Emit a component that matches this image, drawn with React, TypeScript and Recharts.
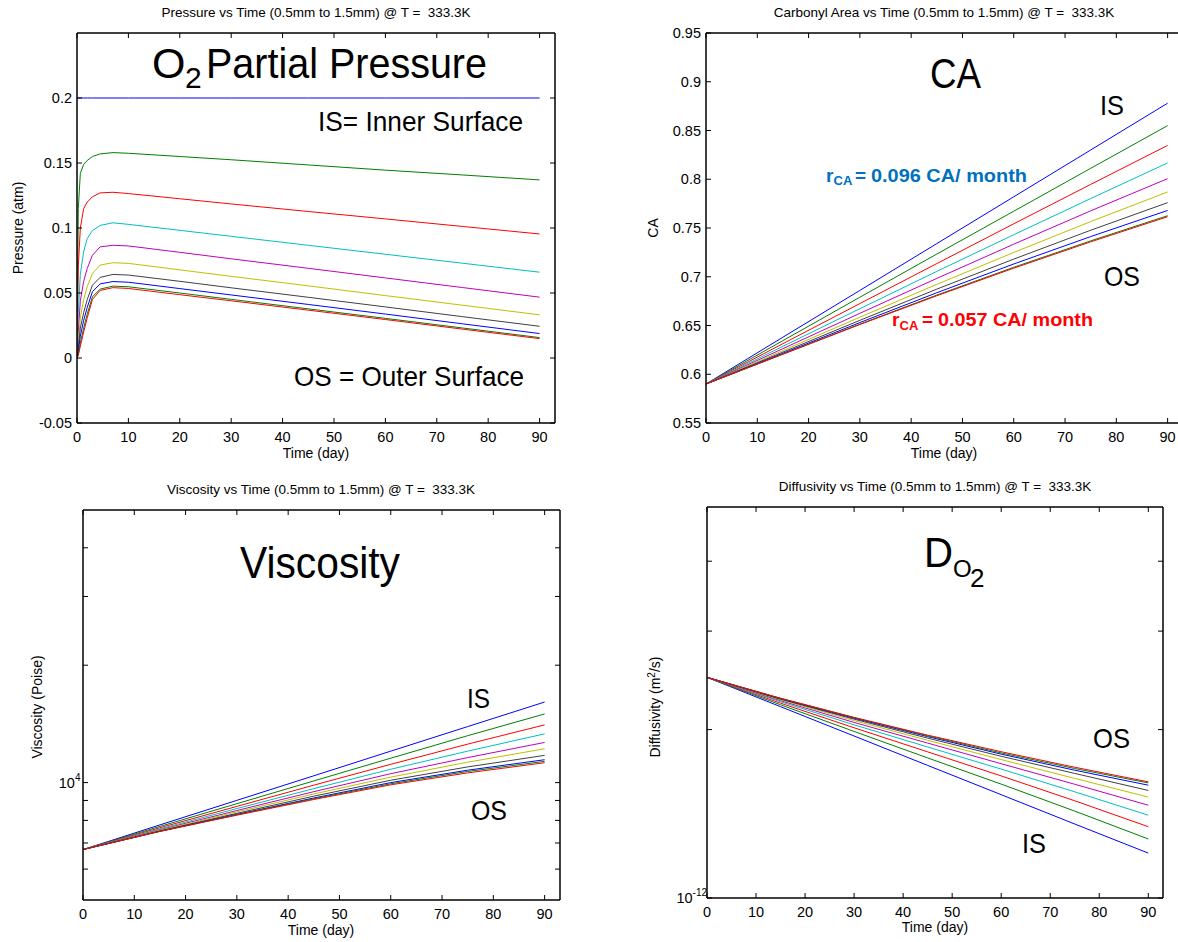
import React from "react";
import { LineChart, Line, XAxis, YAxis } from "recharts";

const FONT = "'Liberation Sans', Arial, Helvetica, sans-serif";
const COLORS = ["#0000FF", "#008000", "#FF0000", "#00BFBF", "#BF00BF", "#BFBF00", "#404040", "#0000FF", "#008000", "#FF0000"];
const TIME_TICKS = [0, 10, 20, 30, 40, 50, 60, 70, 80, 90];
const X_DOMAIN: [number, number] = [0, 93];

// O2 partial pressure (atm), inner surface first
const TIME_P = [0, 0.25, 0.65, 1.3, 2, 3, 4.5, 7, 10, 20, 30, 45, 60, 75, 90];
const P1 = [0.2, 0.2, 0.2, 0.2, 0.2, 0.2, 0.2, 0.2, 0.2, 0.2, 0.2, 0.2, 0.2, 0.2, 0.2];
const P2 = [0, 0.115, 0.142, 0.149, 0.152, 0.155, 0.157, 0.158, 0.1575, 0.155, 0.1525, 0.1485, 0.1445, 0.1408, 0.137];
const P3 = [0, 0.07, 0.1, 0.115, 0.12, 0.124, 0.127, 0.1275, 0.1265, 0.1225, 0.1185, 0.1127, 0.107, 0.1012, 0.0954];
const P4 = [0, 0.035, 0.0645, 0.082, 0.092, 0.098, 0.102, 0.104, 0.1028, 0.0982, 0.0936, 0.0867, 0.0798, 0.0729, 0.066];
const P5 = [0, 0.02, 0.044, 0.059, 0.069, 0.079, 0.0855, 0.0867, 0.0862, 0.0813, 0.0763, 0.069, 0.0616, 0.0542, 0.0468];
const P6 = [0, 0.012, 0.031, 0.045, 0.055, 0.065, 0.0715, 0.0733, 0.0728, 0.0678, 0.0628, 0.0555, 0.048, 0.0406, 0.0332];
const P7 = [0, 0.008, 0.023, 0.035, 0.045, 0.056, 0.062, 0.0643, 0.0638, 0.059, 0.054, 0.0467, 0.0393, 0.0318, 0.0244];
const P8 = [0, 0.005, 0.0168, 0.029, 0.039, 0.051, 0.057, 0.0588, 0.0583, 0.0534, 0.0485, 0.0412, 0.0338, 0.0263, 0.0188];
const P9 = [0, 0.003, 0.0116, 0.023, 0.034, 0.047, 0.053, 0.0553, 0.0548, 0.05, 0.0451, 0.0378, 0.0305, 0.0231, 0.0157];
const P10 = [0, 0.002, 0.009, 0.02, 0.031, 0.045, 0.052, 0.0541, 0.0535, 0.0487, 0.044, 0.0368, 0.0296, 0.0222, 0.0149];
const P_TICKS = [-0.05, 0, 0.05, 0.1, 0.15, 0.2];

const TIME_S = [0, 15, 30, 45, 60, 75, 90];

// carbonyl area
const CA1 = [0.59, 0.638, 0.686, 0.734, 0.782, 0.83, 0.878];
const CA2 = [0.59, 0.6345, 0.679, 0.7233, 0.7672, 0.8112, 0.855];
const CA3 = [0.59, 0.6314, 0.6725, 0.7135, 0.7543, 0.7947, 0.8347];
const CA4 = [0.59, 0.6287, 0.6672, 0.7055, 0.7431, 0.7802, 0.8167];
const CA5 = [0.59, 0.6263, 0.6625, 0.6983, 0.7334, 0.7676, 0.8006];
const CA6 = [0.59, 0.6243, 0.6585, 0.6922, 0.7249, 0.7566, 0.787];
const CA7 = [0.59, 0.6227, 0.6553, 0.6873, 0.7181, 0.7477, 0.776];
const CA8 = [0.59, 0.6215, 0.653, 0.6836, 0.7131, 0.7412, 0.768];
const CA9 = [0.59, 0.6207, 0.6514, 0.6812, 0.7097, 0.7368, 0.7626];
const CA10 = [0.59, 0.6205, 0.651, 0.6805, 0.7088, 0.7358, 0.7616];
const CA_TICKS = [0.55, 0.6, 0.65, 0.7, 0.75, 0.8, 0.85, 0.9, 0.95];

// viscosity (Poise)
const V1 = [6735, 7790, 9005, 10410, 12040, 13920, 16090];
const V2 = [6735, 7720, 8830, 10100, 11550, 13190, 14997];
const V3 = [6735, 7660, 8690, 9850, 11140, 12550, 14060];
const V4 = [6735, 7610, 8580, 9650, 10820, 12040, 13335];
const V5 = [6735, 7570, 8480, 9480, 10540, 11590, 12675];
const V6 = [6735, 7545, 8410, 9350, 10330, 11280, 12210];
const V7 = [6735, 7520, 8340, 9230, 10140, 10970, 11743];
const V8 = [6735, 7505, 8290, 9130, 10000, 10760, 11446];
const V9 = [6735, 7500, 8270, 9090, 9930, 10680, 11335];
const V10 = [6735, 7495, 8250, 9050, 9870, 10590, 11245];
const V_TICKS = [6000, 7000, 8000, 9000, 10000, 20000, 30000, 40000];

// diffusivity, in units of 1e-12 m^2/s
const D1 = [2.48, 2.198, 1.948, 1.726, 1.53, 1.356, 1.203];
const D2 = [2.48, 2.215, 1.985, 1.78, 1.598, 1.43, 1.275];
const D3 = [2.48, 2.23, 2.015, 1.825, 1.653, 1.492, 1.341];
const D4 = [2.48, 2.243, 2.04, 1.862, 1.7, 1.548, 1.406];
const D5 = [2.48, 2.253, 2.06, 1.892, 1.738, 1.597, 1.465];
const D6 = [2.48, 2.261, 2.076, 1.914, 1.768, 1.636, 1.515];
const D7 = [2.48, 2.267, 2.088, 1.931, 1.792, 1.67, 1.557];
const D8 = [2.48, 2.271, 2.096, 1.943, 1.808, 1.692, 1.591];
const D9 = [2.48, 2.274, 2.101, 1.95, 1.817, 1.704, 1.606];
const D10 = [2.48, 2.276, 2.103, 1.955, 1.826, 1.713, 1.613];
const D_TICKS = [1, 2, 3, 4];

const toRows = (t: number[], series: number[][]) =>
  t.map((x, i) => {
    const row: any = { t: x };
    series.forEach((s, k) => (row["s" + k] = s[i]));
    return row;
  });

const pressureRows = toRows(TIME_P, [P1, P2, P3, P4, P5, P6, P7, P8, P9, P10]);
const caRows = toRows(TIME_S, [CA1, CA2, CA3, CA4, CA5, CA6, CA7, CA8, CA9, CA10]);
const viscRows = toRows(TIME_S, [V1, V2, V3, V4, V5, V6, V7, V8, V9, V10]);
const diffRows = toRows(TIME_S, [D1, D2, D3, D4, D5, D6, D7, D8, D9, D10]);

const TICK_FONT = 14.5;
const axisLine = { stroke: "#000", strokeWidth: 1.5 };

const bottomTick = (p: any) => (
  <g>
    <line x1={p.x} x2={p.x} y1={p.y} y2={p.y - 5} stroke="#000" />
    <text x={p.x} y={p.y + 19} textAnchor="middle" fontFamily={FONT} fontSize={TICK_FONT} fill="#000">
      {p.payload.value}
    </text>
  </g>
);
const topTick = (p: any) => <line x1={p.x} x2={p.x} y1={p.y} y2={p.y + 5} stroke="#000" />;
const rightTick = (p: any) => <line x1={p.x} x2={p.x - 5} y1={p.y} y2={p.y} stroke="#000" />;

type LabelFn = (v: number, x: number, y: number) => React.ReactNode;

const plainLabel: LabelFn = (v, x, y) => (
  <text x={x - 5} y={y + 5} textAnchor="end" fontFamily={FONT} fontSize={TICK_FONT} fill="#000">
    {String(v)}
  </text>
);
const viscLabel: LabelFn = (v, x, y) =>
  v === 10000 ? (
    <text x={x - 2.5} y={y + 5} textAnchor="end" fontFamily={FONT} fontSize={TICK_FONT} fill="#000">
      10<tspan dy={-7} fontSize={10}>4</tspan>
    </text>
  ) : null;
const diffLabel: LabelFn = (v, x, y) =>
  v === 1 ? (
    <text x={x} y={y + 5} textAnchor="end" fontFamily={FONT} fontSize={TICK_FONT} fill="#000">
      10<tspan dy={-7} fontSize={10}>-12</tspan>
    </text>
  ) : null;

const leftTick = (fmt: LabelFn) => (p: any) => (
  <g>
    <line x1={p.x} x2={p.x + 5} y1={p.y} y2={p.y} stroke="#000" />
    {fmt(p.payload.value, p.x, p.y)}
  </g>
);

type Box = { l: number; r: number; t: number; b: number };

function Panel(props: {
  left: number;
  top: number;
  width: number;
  height: number;
  box: Box;
  rows: any[];
  yDomain: [number, number];
  yTicks: number[];
  log?: boolean;
  label: LabelFn;
}) {
  const { left, top, width, height, box, rows, yDomain, yTicks, log, label } = props;
  const yW = box.l - left;
  const xH = top + height - box.b;
  // the top and right axes take 1px each
  const margin = { top: box.t - top - 1, right: left + width - box.r - 1, bottom: 0, left: 0 };
  const scale = log ? "log" : "linear";
  return (
    <div style={{ position: "absolute", left, top }}>
      <LineChart width={width} height={height} data={rows} margin={margin}>
        <XAxis xAxisId={0} dataKey="t" type="number" domain={X_DOMAIN} allowDataOverflow ticks={TIME_TICKS}
          interval={0} height={xH} tickSize={0} tickMargin={0} axisLine={axisLine} tick={bottomTick} />
        <XAxis xAxisId="top" orientation="top" dataKey="t" type="number" domain={X_DOMAIN} allowDataOverflow
          ticks={TIME_TICKS} interval={0} height={1} tickSize={0} tickMargin={0} axisLine={axisLine} tick={topTick} />
        <YAxis yAxisId={0} type="number" scale={scale} domain={yDomain} allowDataOverflow ticks={yTicks}
          interval={0} width={yW} tickSize={0} tickMargin={0} axisLine={axisLine} tick={leftTick(label)} />
        <YAxis yAxisId="right" orientation="right" type="number" scale={scale} domain={yDomain} allowDataOverflow
          ticks={yTicks} interval={0} width={1} tickSize={0} tickMargin={0} axisLine={axisLine} tick={rightTick} />
        {COLORS.map((c, k) => (
          <Line key={k} xAxisId={0} yAxisId={0} type="linear" dataKey={"s" + k} stroke={c} strokeWidth={1}
            dot={false} activeDot={false} isAnimationActive={false} />
        ))}
        {/* invisible copy so the box axes get a series */}
        <Line xAxisId="top" yAxisId="right" type="linear" dataKey="s0" stroke="none" strokeWidth={0}
          dot={false} activeDot={false} isAnimationActive={false} />
      </LineChart>
    </div>
  );
}

const T = { fontFamily: FONT, fill: "#000" };

function Overlay() {
  const title = (x: number, y: number, s: string) => (
    <text x={x} y={y} textAnchor="middle" fontSize={13.5} {...T} style={{ whiteSpace: "pre" }}>{s}</text>
  );
  const xLabel = (x: number, y: number) => (
    <text x={x} y={y} textAnchor="middle" fontSize={14} {...T}>Time (day)</text>
  );
  const yLabel = (x: number, y: number, c: React.ReactNode) => (
    <text x={x} y={y} textAnchor="middle" fontSize={14} {...T} transform={`rotate(-90 ${x} ${y})`}>{c}</text>
  );
  const big = (x: number, y: number, s: string, fs: number, w?: number) => (
    <text x={x} y={y} fontSize={fs} {...T} {...(w ? { textLength: w, lengthAdjust: "spacingAndGlyphs" } : {})}>{s}</text>
  );
  return (
    <svg width={1178} height={942} style={{ position: "absolute", left: 0, top: 0, pointerEvents: "none" }}>
      {title(316, 17, "Pressure vs Time (0.5mm to 1.5mm) @ T =  333.3K")}
      {title(944, 17, "Carbonyl Area vs Time (0.5mm to 1.5mm) @ T =  333.3K")}
      {title(321, 494, "Viscosity vs Time (0.5mm to 1.5mm) @ T =  333.3K")}
      {title(935, 491, "Diffusivity vs Time (0.5mm to 1.5mm) @ T =  333.3K")}
      {xLabel(316, 458)}
      {xLabel(944, 458)}
      {xLabel(321, 935)}
      {xLabel(935, 932)}
      {yLabel(23, 228, "Pressure (atm)")}
      {yLabel(658, 228, "CA")}
      {yLabel(42, 707, "Viscosity (Poise)")}
      {yLabel(660, 707, <>Diffusivity (m<tspan dy={-5} fontSize={10}>2</tspan><tspan dy={5}>/s)</tspan></>)}

      {/* panel 1 annotations */}
      <text x={152} y={78} fontSize={43} {...T}>
        O<tspan x={185} dy={10} fontSize={30}>2</tspan>
        <tspan x={206} dy={-10} textLength={281} lengthAdjust="spacingAndGlyphs">Partial Pressure</tspan>
      </text>
      {big(318, 131, "IS= Inner Surface", 28, 205)}
      {big(294, 386, "OS = Outer Surface", 28, 230)}

      {/* panel 2 annotations */}
      {big(930, 88, "CA", 42, 51)}
      {big(1100, 115, "IS", 28, 24)}
      {big(1104, 286, "OS", 28, 36)}
      <text x={826} y={182} fill="#0070C0" fontFamily={FONT} fontWeight="bold" fontSize={19}>
        r<tspan x={833.5} dy={3} fontSize={13}>CA</tspan>
        <tspan x={855} dy={-3}>=</tspan>
        <tspan x={871} textLength={156} lengthAdjust="spacingAndGlyphs">0.096 CA/ month</tspan>
      </text>
      <text x={892} y={326} fill="#FF0000" fontFamily={FONT} fontWeight="bold" fontSize={19}>
        r<tspan x={899.5} dy={4} fontSize={13}>CA</tspan>
        <tspan x={922} dy={-4}>=</tspan>
        <tspan x={938} textLength={155} lengthAdjust="spacingAndGlyphs">0.057 CA/ month</tspan>
      </text>

      {/* panel 3 annotations */}
      {big(240, 578, "Viscosity", 44, 160)}
      {big(467, 708, "IS", 28, 23)}
      {big(471, 820, "OS", 28, 36)}

      {/* panel 4 annotations */}
      <text x={924} y={567} fontSize={42} {...T}>
        <tspan textLength={29} lengthAdjust="spacingAndGlyphs">D</tspan>
        <tspan x={953} dy={10} fontSize={24}>O</tspan>
        <tspan x={970} dy={10} fontSize={26}>2</tspan>
      </text>
      {big(1093, 748, "OS", 28, 37)}
      {big(1022, 853, "IS", 28, 24)}
    </svg>
  );
}

export default function App() {
  return (
    <div style={{ position: "fixed", left: 0, top: 0, width: 1178, height: 942, overflow: "hidden", background: "#fff" }}>
      <Panel left={0} top={0} width={580} height={470} box={{ l: 77, r: 555, t: 33, b: 423 }}
        rows={pressureRows} yDomain={[-0.05, 0.25]} yTicks={P_TICKS} label={plainLabel} />
      <Panel left={590} top={0} width={600} height={470} box={{ l: 706, r: 1183, t: 33, b: 423 }}
        rows={caRows} yDomain={[0.55, 0.95]} yTicks={CA_TICKS} label={plainLabel} />
      <Panel left={0} top={470} width={590} height={472} box={{ l: 83, r: 560, t: 510, b: 900 }}
        rows={viscRows} yDomain={[5000, 50000]} yTicks={V_TICKS} log label={viscLabel} />
      <Panel left={590} top={470} width={600} height={472} box={{ l: 707, r: 1163, t: 507, b: 898 }}
        rows={diffRows} yDomain={[1, 5]} yTicks={D_TICKS} log label={diffLabel} />
      <Overlay />
    </div>
  );
}
